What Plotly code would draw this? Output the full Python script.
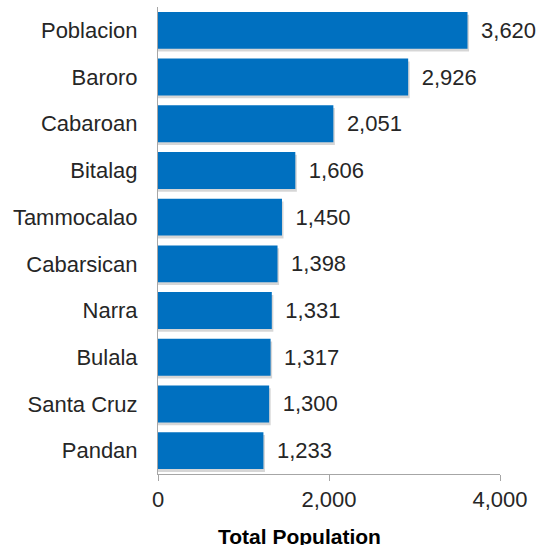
import plotly.graph_objects as go

barangays = ["Poblacion", "Baroro", "Cabaroan", "Bitalag", "Tammocalao",
             "Cabarsican", "Narra", "Bulala", "Santa Cruz", "Pandan"]
population = [3620, 2926, 2051, 1606, 1450, 1398, 1331, 1317, 1300, 1233]
tick_vals = [0, 2000, 4000]
tick_text = ["0", "2,000", "4,000"]

W, H = 537, 545
ml, mr, mt, mb = 158, 37, 7, 71
FONT = "Liberation Sans, Arial, sans-serif"
BW = 0.79

shadow = go.Bar(
    x=[v + 18 for v in population], y=barangays, orientation="h",
    width=BW, offset=-BW / 2 + 0.06,
    marker=dict(color="rgba(0,0,0,0.16)", line=dict(width=0)),
    hoverinfo="skip",
)
bars = go.Bar(
    x=population, y=barangays, orientation="h",
    width=BW, offset=-BW / 2,
    marker=dict(color="#0070C0", line=dict(width=0)),
    text=[f"{v:,}" for v in population],
    texttemplate=" \u2009%{text}",
    textposition="outside", cliponaxis=False,
    textfont=dict(family=FONT, size=22, color="#262626"),
)
fig = go.Figure([shadow, bars])

fig.update_layout(
    width=W, height=H,
    margin=dict(l=ml, r=mr, t=mt, b=mb),
    paper_bgcolor="white", plot_bgcolor="white",
    barmode="overlay", showlegend=False,
    font=dict(family=FONT, size=22, color="#262626"),
    xaxis=dict(range=[0, 4000], tickvals=tick_vals, ticktext=tick_text,
               showgrid=False, zeroline=False, showline=True, linecolor="#a6a6a6",
               linewidth=1, ticks="outside", ticklen=6, tickcolor="#a6a6a6",
               tickfont=dict(family=FONT, size=22, color="#262626")),
    yaxis=dict(autorange="reversed", showgrid=False, zeroline=False, showline=True,
               linecolor="#a6a6a6", linewidth=1, ticks="", ticklabelstandoff=15,
               tickfont=dict(family=FONT, size=22, color="#262626")),
    annotations=[dict(text="<b>Total Population</b>", xref="paper", yref="paper",
                      x=(299 - ml) / (W - ml - mr), y=-(536 - (H - mb)) / (H - mt - mb),
                      xanchor="center", yanchor="middle", showarrow=False,
                      font=dict(family=FONT, size=21, color="#000000"))],
)

fig.write_html("out.html", config={"displayModeBar": False},
               post_script="document.body.style.margin='0';")
